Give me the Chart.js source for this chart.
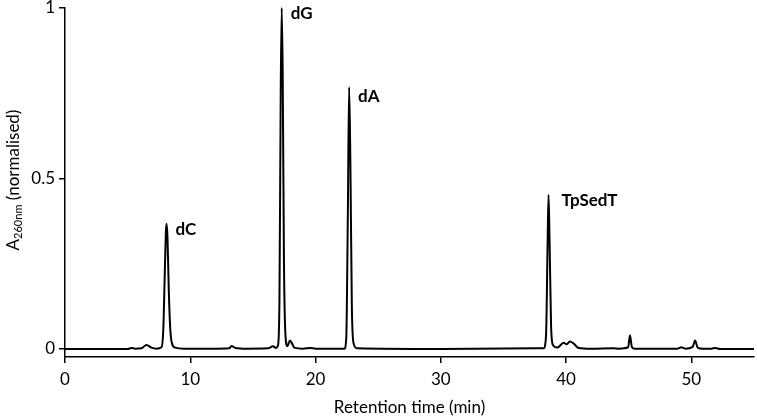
<!DOCTYPE html>
<html>
<head>
<meta charset="utf-8">
<script src="https://cdn.jsdelivr.net/npm/chart.js@4"></script>
<style>
  html, body { margin: 0; padding: 0; background: #fff; }
  #wrap { width: 757px; height: 418px; }
</style>
</head>
<body>
<div id="wrap"><canvas id="hplc_chart"></canvas></div>
<script>
// retention time (min) and normalised absorbance
var times = [
  0, 5.0, 5.3, 5.6, 6.1, 6.5, 6.9, 7.3, 7.7, 7.85, 7.95, 8.05, 8.1, 8.18, 8.28, 8.4, 8.55, 8.8, 9.5,
  12.0, 13.1, 13.3, 13.6, 14.5, 16.2, 16.6, 16.85, 17.0, 17.12, 17.22, 17.3, 17.38, 17.48, 17.6, 17.75,
  17.95, 18.1, 18.3, 19.0, 19.6, 20.0, 22.3, 22.45, 22.58, 22.68, 22.78, 22.9, 23.05, 23.3,
  30, 38.2, 38.4, 38.52, 38.6, 38.68, 38.8, 38.95, 39.3, 39.8, 40.05, 40.3, 40.6, 41.0,
  42, 43.8, 44.2, 44.95, 45.1, 45.25, 45.5, 48.9, 49.2, 49.5, 50.1, 50.3, 50.5, 50.9,
  51.6, 51.9, 52.3, 55
];
var absorbance = [
  0, 0, 0.003, 0.001, 0.002, 0.012, 0.004, 0.001, 0.005, 0.06, 0.2, 0.34, 0.367, 0.33, 0.18, 0.06, 0.015, 0.004, 0.001,
  0.001, 0.002, 0.009, 0.003, 0.001, 0.002, 0.008, 0.003, 0.01, 0.15, 0.75, 1.0, 0.8, 0.25, 0.04, 0.008,
  0.025, 0.018, 0.004, 0.001, 0.003, 0.001, 0.001, 0.03, 0.4, 0.768, 0.55, 0.12, 0.015, 0.002,
  0, 0.002, 0.04, 0.3, 0.452, 0.32, 0.07, 0.012, 0.004, 0.018, 0.014, 0.022, 0.016, 0.003,
  0.001, 0.002, 0.001, 0.005, 0.04, 0.006, 0.001, 0.001, 0.005, 0.001, 0.006, 0.025, 0.004, 0.001,
  0.001, 0.003, 0, 0
];

var peakLabels = ["dC", "dG", "dA", "TpSedT"];
var peakTimes = [8.1, 17.3, 22.68, 38.6];
var peakHeights = [0.367, 1.0, 0.768, 0.452];

var xTicks = [0, 10, 20, 30, 40, 50];
var yTicks = [0, 0.5, 1];

var points = [];
for (var i = 0; i < times.length; i++) {
  points.push({ x: times[i], y: absorbance[i] });
}

var FONT = "Lato, 'Open Sans', sans-serif";

// peak names next to each peak top
var peakLabelPlugin = {
  id: "peakLabels",
  afterDatasetsDraw: function (chart) {
    var ctx = chart.ctx;
    var xs = chart.scales.x, ys = chart.scales.y;
    ctx.save();
    ctx.fillStyle = "#000";
    ctx.font = "bold 17px " + FONT;
    ctx.textBaseline = "middle";
    ctx.textAlign = "left";
    for (var i = 0; i < peakLabels.length; i++) {
      var px = xs.getPixelForValue(peakTimes[i]);
      var py = ys.getPixelForValue(peakHeights[i]);
      var dx = peakLabels[i] == "TpSedT" ? 13 : 9;
      var dy = peakLabels[i] == "dA" ? 9 : 6;
      ctx.fillText(peakLabels[i], px + dx, py + dy);
    }
    ctx.restore();
  }
};

// y title with subscript
var yTitlePlugin = {
  id: "yTitle",
  afterDraw: function (chart) {
    var ctx = chart.ctx;
    ctx.save();
    ctx.translate(14, 180);
    ctx.rotate(-Math.PI / 2);
    ctx.fillStyle = "#000";
    ctx.textBaseline = "middle";
    ctx.textAlign = "left";
    var big = "17px " + FONT, small = "11px " + FONT;
    ctx.font = big;
    var wA = ctx.measureText("A").width;
    var wRest = ctx.measureText(" (normalised)").width;
    ctx.font = small;
    var wSub = ctx.measureText("260nm").width;
    var x = -(wA + wSub + wRest) / 2;
    ctx.font = big;
    ctx.fillText("A", x, 0);
    ctx.font = small;
    ctx.fillText("260nm", x + wA, 4);
    ctx.font = big;
    ctx.fillText(" (normalised)", x + wA + wSub, 0);
    ctx.restore();
  }
};

var config = {
  type: "line",
  data: {
    datasets: [
      {
        label: "A260",
        data: points,
        borderColor: "#000",
        borderWidth: 2,
        pointRadius: 0,
        fill: false,
        cubicInterpolationMode: "monotone",
        clip: false
      }
    ]
  },
  options: {
    responsive: true,
    maintainAspectRatio: false,
    animation: false,
    layout: { padding: { top: 8, right: 3, left: 0, bottom: 0 } },
    plugins: {
      legend: { display: false },
      tooltip: { enabled: false }
    },
    scales: {
      x: {
        type: "linear",
        min: 0,
        max: 55,
        afterBuildTicks: function (scale) {
          scale.ticks = xTicks.map(function (v) { return { value: v }; });
        },
        afterFit: function (scale) { scale.height = 61; },
        border: { color: "#000", width: 1.5 },
        grid: { drawOnChartArea: false, drawTicks: true, tickLength: 6, color: "#000", lineWidth: 1.5 },
        ticks: { color: "#000", font: { family: FONT, size: 17 }, padding: 6, maxRotation: 0 },
        title: {
          display: true,
          text: "Retention time (min)",
          color: "#000",
          font: { family: FONT, size: 17 },
          padding: { top: 1, bottom: 0 }
        }
      },
      y: {
        min: -0.0235,
        max: 1,
        afterBuildTicks: function (scale) {
          scale.ticks = yTicks.map(function (v) { return { value: v }; });
        },
        afterFit: function (scale) {
          scale.width = 65;
          scale.paddingTop = 0;
          scale.paddingBottom = 0;
        },
        border: { color: "#000", width: 1.5 },
        grid: { drawOnChartArea: false, drawTicks: true, tickLength: 6, color: "#000", lineWidth: 1.5 },
        ticks: {
          color: "#000",
          font: { family: FONT, size: 17 },
          padding: 4,
          callback: function (v) { return v; }
        }
      }
    }
  },
  plugins: [peakLabelPlugin, yTitlePlugin]
};

var hplc_chart = new Chart(document.getElementById("hplc_chart"), config);
</script>
</body>
</html>
